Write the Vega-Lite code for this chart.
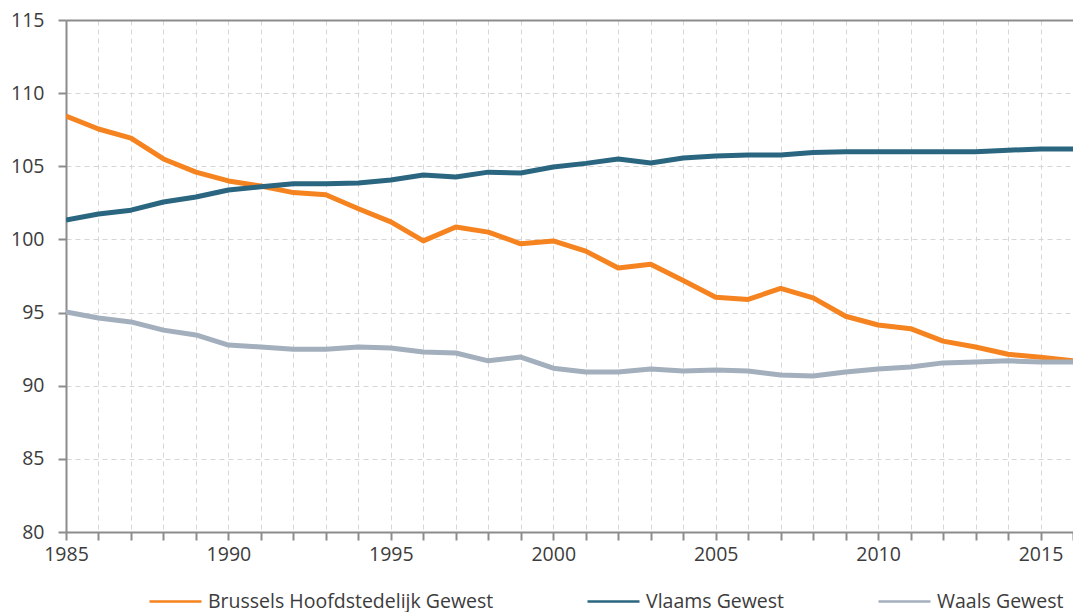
{
  "$schema": "https://vega.github.io/schema/vega-lite/v6.json",
  "width": 1007,
  "height": 512,
  "autosize": {"type": "none"},
  "padding": {"left": 66, "top": 20, "right": 0, "bottom": 80},
  "background": "white",
  "config": {
    "font": "Open Sans",
    "view": {"stroke": null},
    "axis": {
      "domainColor": "#8c8c8c",
      "domainWidth": 2,
      "tickColor": "#8c8c8c",
      "tickWidth": 2,
      "tickSize": 8,
      "gridColor": "#d6d6d6",
      "gridDash": [5, 4],
      "gridWidth": 1,
      "labelColor": "#3c3c3c",
      "labelFontSize": 19.5,
      "labelFont": "Open Sans"
    }
  },
  "data": {
    "values": [
      {"year": 1985, "region": "Brussels Hoofdstedelijk Gewest", "value": 108.44},
      {"year": 1986, "region": "Brussels Hoofdstedelijk Gewest", "value": 107.55},
      {"year": 1987, "region": "Brussels Hoofdstedelijk Gewest", "value": 106.93},
      {"year": 1988, "region": "Brussels Hoofdstedelijk Gewest", "value": 105.5},
      {"year": 1989, "region": "Brussels Hoofdstedelijk Gewest", "value": 104.6},
      {"year": 1990, "region": "Brussels Hoofdstedelijk Gewest", "value": 104.0},
      {"year": 1991, "region": "Brussels Hoofdstedelijk Gewest", "value": 103.65},
      {"year": 1992, "region": "Brussels Hoofdstedelijk Gewest", "value": 103.2},
      {"year": 1993, "region": "Brussels Hoofdstedelijk Gewest", "value": 103.05},
      {"year": 1994, "region": "Brussels Hoofdstedelijk Gewest", "value": 102.1},
      {"year": 1995, "region": "Brussels Hoofdstedelijk Gewest", "value": 101.2},
      {"year": 1996, "region": "Brussels Hoofdstedelijk Gewest", "value": 99.9},
      {"year": 1997, "region": "Brussels Hoofdstedelijk Gewest", "value": 100.85},
      {"year": 1998, "region": "Brussels Hoofdstedelijk Gewest", "value": 100.5},
      {"year": 1999, "region": "Brussels Hoofdstedelijk Gewest", "value": 99.7},
      {"year": 2000, "region": "Brussels Hoofdstedelijk Gewest", "value": 99.9},
      {"year": 2001, "region": "Brussels Hoofdstedelijk Gewest", "value": 99.2},
      {"year": 2002, "region": "Brussels Hoofdstedelijk Gewest", "value": 98.05},
      {"year": 2003, "region": "Brussels Hoofdstedelijk Gewest", "value": 98.3},
      {"year": 2004, "region": "Brussels Hoofdstedelijk Gewest", "value": 97.2},
      {"year": 2005, "region": "Brussels Hoofdstedelijk Gewest", "value": 96.05},
      {"year": 2006, "region": "Brussels Hoofdstedelijk Gewest", "value": 95.9},
      {"year": 2007, "region": "Brussels Hoofdstedelijk Gewest", "value": 96.65},
      {"year": 2008, "region": "Brussels Hoofdstedelijk Gewest", "value": 96.0},
      {"year": 2009, "region": "Brussels Hoofdstedelijk Gewest", "value": 94.75},
      {"year": 2010, "region": "Brussels Hoofdstedelijk Gewest", "value": 94.15},
      {"year": 2011, "region": "Brussels Hoofdstedelijk Gewest", "value": 93.9},
      {"year": 2012, "region": "Brussels Hoofdstedelijk Gewest", "value": 93.05},
      {"year": 2013, "region": "Brussels Hoofdstedelijk Gewest", "value": 92.65},
      {"year": 2014, "region": "Brussels Hoofdstedelijk Gewest", "value": 92.15},
      {"year": 2015, "region": "Brussels Hoofdstedelijk Gewest", "value": 91.95},
      {"year": 2016, "region": "Brussels Hoofdstedelijk Gewest", "value": 91.7},
      {"year": 1985, "region": "Vlaams Gewest", "value": 101.33},
      {"year": 1986, "region": "Vlaams Gewest", "value": 101.74},
      {"year": 1987, "region": "Vlaams Gewest", "value": 102.0},
      {"year": 1988, "region": "Vlaams Gewest", "value": 102.56},
      {"year": 1989, "region": "Vlaams Gewest", "value": 102.9},
      {"year": 1990, "region": "Vlaams Gewest", "value": 103.38},
      {"year": 1991, "region": "Vlaams Gewest", "value": 103.6},
      {"year": 1992, "region": "Vlaams Gewest", "value": 103.8},
      {"year": 1993, "region": "Vlaams Gewest", "value": 103.8},
      {"year": 1994, "region": "Vlaams Gewest", "value": 103.86},
      {"year": 1995, "region": "Vlaams Gewest", "value": 104.06},
      {"year": 1996, "region": "Vlaams Gewest", "value": 104.4},
      {"year": 1997, "region": "Vlaams Gewest", "value": 104.27},
      {"year": 1998, "region": "Vlaams Gewest", "value": 104.6},
      {"year": 1999, "region": "Vlaams Gewest", "value": 104.54},
      {"year": 2000, "region": "Vlaams Gewest", "value": 104.95},
      {"year": 2001, "region": "Vlaams Gewest", "value": 105.2},
      {"year": 2002, "region": "Vlaams Gewest", "value": 105.5},
      {"year": 2003, "region": "Vlaams Gewest", "value": 105.23},
      {"year": 2004, "region": "Vlaams Gewest", "value": 105.57},
      {"year": 2005, "region": "Vlaams Gewest", "value": 105.7},
      {"year": 2006, "region": "Vlaams Gewest", "value": 105.77},
      {"year": 2007, "region": "Vlaams Gewest", "value": 105.77},
      {"year": 2008, "region": "Vlaams Gewest", "value": 105.94},
      {"year": 2009, "region": "Vlaams Gewest", "value": 106.0},
      {"year": 2010, "region": "Vlaams Gewest", "value": 106.0},
      {"year": 2011, "region": "Vlaams Gewest", "value": 106.0},
      {"year": 2012, "region": "Vlaams Gewest", "value": 106.0},
      {"year": 2013, "region": "Vlaams Gewest", "value": 106.0},
      {"year": 2014, "region": "Vlaams Gewest", "value": 106.1},
      {"year": 2015, "region": "Vlaams Gewest", "value": 106.18},
      {"year": 2016, "region": "Vlaams Gewest", "value": 106.18},
      {"year": 1985, "region": "Waals Gewest", "value": 95.04},
      {"year": 1986, "region": "Waals Gewest", "value": 94.63},
      {"year": 1987, "region": "Waals Gewest", "value": 94.36},
      {"year": 1988, "region": "Waals Gewest", "value": 93.8},
      {"year": 1989, "region": "Waals Gewest", "value": 93.47},
      {"year": 1990, "region": "Waals Gewest", "value": 92.78},
      {"year": 1991, "region": "Waals Gewest", "value": 92.65},
      {"year": 1992, "region": "Waals Gewest", "value": 92.5},
      {"year": 1993, "region": "Waals Gewest", "value": 92.5},
      {"year": 1994, "region": "Waals Gewest", "value": 92.65},
      {"year": 1995, "region": "Waals Gewest", "value": 92.58},
      {"year": 1996, "region": "Waals Gewest", "value": 92.3},
      {"year": 1997, "region": "Waals Gewest", "value": 92.24},
      {"year": 1998, "region": "Waals Gewest", "value": 91.7},
      {"year": 1999, "region": "Waals Gewest", "value": 91.96},
      {"year": 2000, "region": "Waals Gewest", "value": 91.2},
      {"year": 2001, "region": "Waals Gewest", "value": 90.94},
      {"year": 2002, "region": "Waals Gewest", "value": 90.94},
      {"year": 2003, "region": "Waals Gewest", "value": 91.15},
      {"year": 2004, "region": "Waals Gewest", "value": 91.0},
      {"year": 2005, "region": "Waals Gewest", "value": 91.07},
      {"year": 2006, "region": "Waals Gewest", "value": 91.0},
      {"year": 2007, "region": "Waals Gewest", "value": 90.73},
      {"year": 2008, "region": "Waals Gewest", "value": 90.66},
      {"year": 2009, "region": "Waals Gewest", "value": 90.94},
      {"year": 2010, "region": "Waals Gewest", "value": 91.15},
      {"year": 2011, "region": "Waals Gewest", "value": 91.28},
      {"year": 2012, "region": "Waals Gewest", "value": 91.56},
      {"year": 2013, "region": "Waals Gewest", "value": 91.62},
      {"year": 2014, "region": "Waals Gewest", "value": 91.7},
      {"year": 2015, "region": "Waals Gewest", "value": 91.62},
      {"year": 2016, "region": "Waals Gewest", "value": 91.62}
    ]
  },
  "mark": {"type": "line", "strokeWidth": 5, "strokeJoin": "round", "clip": true},
  "encoding": {
    "x": {
      "field": "year",
      "type": "quantitative",
      "scale": {"domain": [1985, 2016], "nice": false, "zero": false},
      "axis": {
        "title": null,
        "values": [1985, 1986, 1987, 1988, 1989, 1990, 1991, 1992, 1993, 1994, 1995, 1996, 1997, 1998, 1999, 2000, 2001, 2002, 2003, 2004, 2005, 2006, 2007, 2008, 2009, 2010, 2011, 2012, 2013, 2014, 2015, 2016],
        "format": "d",
        "labelExpr": "datum.value % 5 === 0 ? datum.label : ''",
        "labelPadding": 5,
        "labelOverlap": false,
        "labelFlush": false
      }
    },
    "y": {
      "field": "value",
      "type": "quantitative",
      "scale": {"domain": [80, 115], "nice": false, "zero": false},
      "axis": {
        "title": null,
        "values": [80, 85, 90, 95, 100, 105, 110, 115],
        "labelPadding": 14,
        "gridDash": {"condition": {"test": "datum.value === 115", "value": []}, "value": [5, 4]},
        "gridColor": {"condition": {"test": "datum.value === 115", "value": "#8c8c8c"}, "value": "#d6d6d6"},
        "gridWidth": {"condition": {"test": "datum.value === 115", "value": 2}, "value": 1}
      }
    },
    "color": {
      "field": "region",
      "type": "nominal",
      "scale": {
        "domain": ["Brussels Hoofdstedelijk Gewest", "Vlaams Gewest", "Waals Gewest"],
        "range": ["#f5831f", "#2b6680", "#a3afbd"]
      },
      "legend": {
        "title": null,
        "orient": "none",
        "direction": "horizontal",
        "legendX": 82,
        "legendY": 554,
        "symbolType": "stroke",
        "symbolSize": 2704,
        "symbolStrokeWidth": 2.5,
        "labelFontSize": 19.5,
        "labelColor": "#3c3c3c",
        "labelFont": "Open Sans",
        "labelOffset": 5,
        "columnPadding": 88,
        "labelLimit": 400
      }
    }
  }
}
